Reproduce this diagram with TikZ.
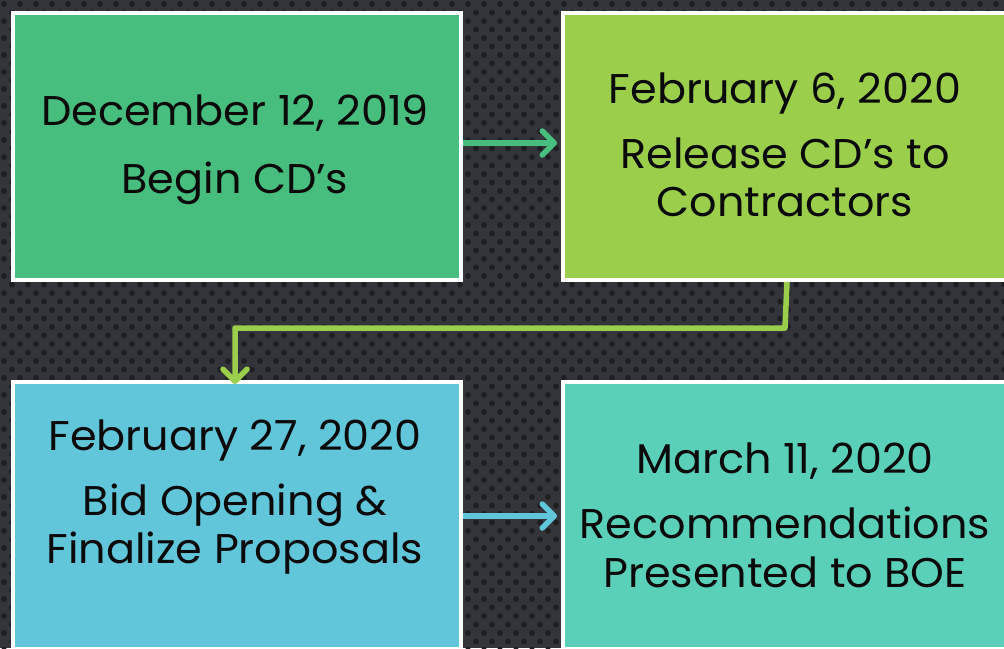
\documentclass[tikz,border=0pt]{standalone}
\usepackage{fontspec}
\setmainfont[FakeStretch=1.035]{Poppins}
\usetikzlibrary{arrows.meta}
\definecolor{bgc}{HTML}{33353A}
\definecolor{dotc}{HTML}{1E1F22}
\definecolor{cA}{HTML}{47BD7E}
\definecolor{cB}{HTML}{9BCF4B}
\definecolor{cC}{HTML}{62C6DB}
\definecolor{cD}{HTML}{5BD0B9}
\definecolor{txt}{HTML}{0A0A0A}
\tikzset{
  box/.style={draw=white, line width=4pt, minimum width=448pt, minimum height=267pt, inner sep=0pt, anchor=north west},
  ln/.style={anchor=base, text=txt, inner sep=0pt, font=\fontsize{41.5}{48}\selectfont},
  conn/.style={line width=5.5pt, -{Straight Barb[length=12pt,width=24pt,line cap=round,line join=round]}},
}
\begin{document}
\begin{tikzpicture}[x=1pt,y=-1pt]
\useasboundingbox (0,0) rectangle (1004,648);
\clip (0,0) rectangle (1004,648);
\fill[bgc] (0,0) rectangle (1004,648);
\foreach \j in {0,...,77} {
  \foreach \i in {0,...,63} {
    \fill[dotc] ({\i*16 + mod(\j,2)*8 + 4}, {\j*8.5 + 4}) circle (2.9);
  }
}
\node[box, fill=cA] (b1) at (11,11) {};
\node[box, fill=cB] (b2) at (561,11) {};
\node[box, fill=cC] (b3) at (11,380) {};
\node[box, fill=cD] (b4) at (561,380) {};

\node[ln] (t1a) at (235,125) {December 12, 2019};
\node[ln] (t1b) at (235,193) {Begin CD’s};

\node[ln] (t2a) at (785,103) {February 6, 2020};
\node[ln] (t2b) at (785,168) {Release CD’s to};
\node[ln] (t2c) at (785,216) {Contractors};

\node[ln] (t3a) at (235,450) {February 27, 2020};
\node[ln] (t3b) at (235,515) {Bid Opening \&};
\node[ln] (t3c) at (235,563) {Finalize Proposals};

\node[ln] (t4a) at (785,473) {March 11, 2020};
\node[ln] (t4b) at (785,538) {Recommendations};
\node[ln] (t4c) at (785,587) {Presented to BOE};

\coordinate (e1) at (785,328);
\coordinate (e2) at (235,328);
\draw[conn, cA] (b1.east |- 0,143) -- ([xshift=-4pt]b2.west |- 0,143);
\draw[conn, cB, line join=round] (b2.south) -- (e1) -- (e2) -- ([yshift=-4pt]b3.north -| e2);
\draw[conn, cC] (b3.east |- 0,516) -- ([xshift=-4pt]b4.west |- 0,516);
\end{tikzpicture}
\end{document}
